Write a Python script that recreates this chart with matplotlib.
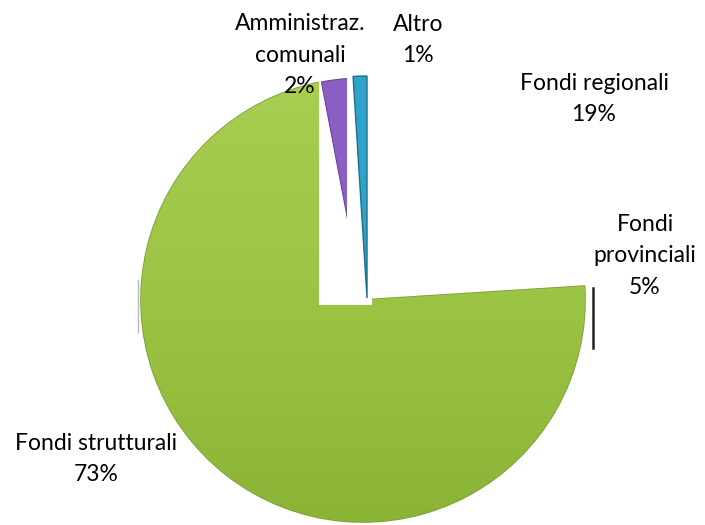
import numpy as np
import matplotlib.pyplot as plt
from matplotlib.patches import Wedge, Rectangle
from matplotlib.colors import LinearSegmentedColormap

plt.rcParams['font.family'] = ['Lato', 'DejaVu Sans']

categories = ['Fondi regionali', 'Fondi provinciali', 'Fondi strutturali',
              'Amministraz.\ncomunali', 'Altro']
shares = [19, 5, 73, 2, 1]
colors = ['white', 'white', '#9cc445', '#8a5ec2', '#2ea3c9']

W, H = 705, 525
fig = plt.figure(figsize=(W / 100, H / 100), dpi=100)
ax = fig.add_axes([0, 0, 1, 1])
ax.set_aspect('equal')


def py(y):
    # pixel rows from the top -> data y
    return H - y


cx, cy, r = 363, py(300), 222

wedges, _ = ax.pie(shares, colors=colors, startangle=90, counterclock=False,
                   radius=r, center=(cx, cy), frame=True,
                   wedgeprops=dict(linewidth=0))
ax.set_xlim(0, W)
ax.set_ylim(0, H)
ax.axis('off')

# green slice: vertical gradient clipped to the wedge, thin dark rim
green = wedges[2]
green.set_edgecolor('#7c9c36')
green.set_linewidth(1.2)
grad = np.linspace(0, 1, 256)[:, None]
cmap = LinearSegmentedColormap.from_list('g', ['#a8ce52', '#9cc444', '#8bb437'])
im = ax.imshow(grad, cmap=cmap, aspect='auto',
               extent=(cx - r, cx + r, cy - r, cy + r), origin='upper', zorder=1.5)
im.set_clip_path(green)

# white panel over the top of the pie
ax.add_patch(Rectangle((319, py(305)), 372 - 319, 305 - 75,
                       facecolor='white', edgecolor='none', zorder=3))

# small slices redrawn above the panel, from the same angles
ends = 90 - np.cumsum([0] + shares) * 3.6
th_p = (ends[4], ends[3])
th_b = (ends[5], ends[4])

pw = Wedge((cx, cy), r, *th_p, facecolor=colors[3], edgecolor='#6a45a0',
           linewidth=0.8, zorder=4)
clip = Rectangle((0, 0), 347, H, transform=ax.transData)
ax.add_patch(pw)
pw.set_clip_path(clip)

bw = Wedge((cx + 4, cy + 2), r, *th_b, facecolor=colors[4], edgecolor='#1d6f8a',
           linewidth=1.0, zorder=4)
ax.add_patch(bw)

# depth strokes at the rim
ax.plot([593, 593], [py(288), py(348)], color='#222222', lw=1.8, zorder=5)
ax.plot([138, 138], [py(280), py(332)], color='#b8b8b8', lw=1.0, zorder=5)

fs = 16.5
ls = 1.62
labels = [
    ('Fondi regionali\n19%', 594, 99),
    ('Fondi\nprovinciali\n5%', 645, 256),
    ('Fondi strutturali\n73%', 96, 459),
    ('Amministraz.\ncomunali\n2%', 300, 55),
    ('Altro\n1%', 418, 40),
]
for txt, x, y in labels:
    ax.text(x, py(y), txt, ha='center', va='center', fontsize=fs,
            linespacing=ls, color='black', zorder=6)

fig.savefig('out.png', dpi=100)
